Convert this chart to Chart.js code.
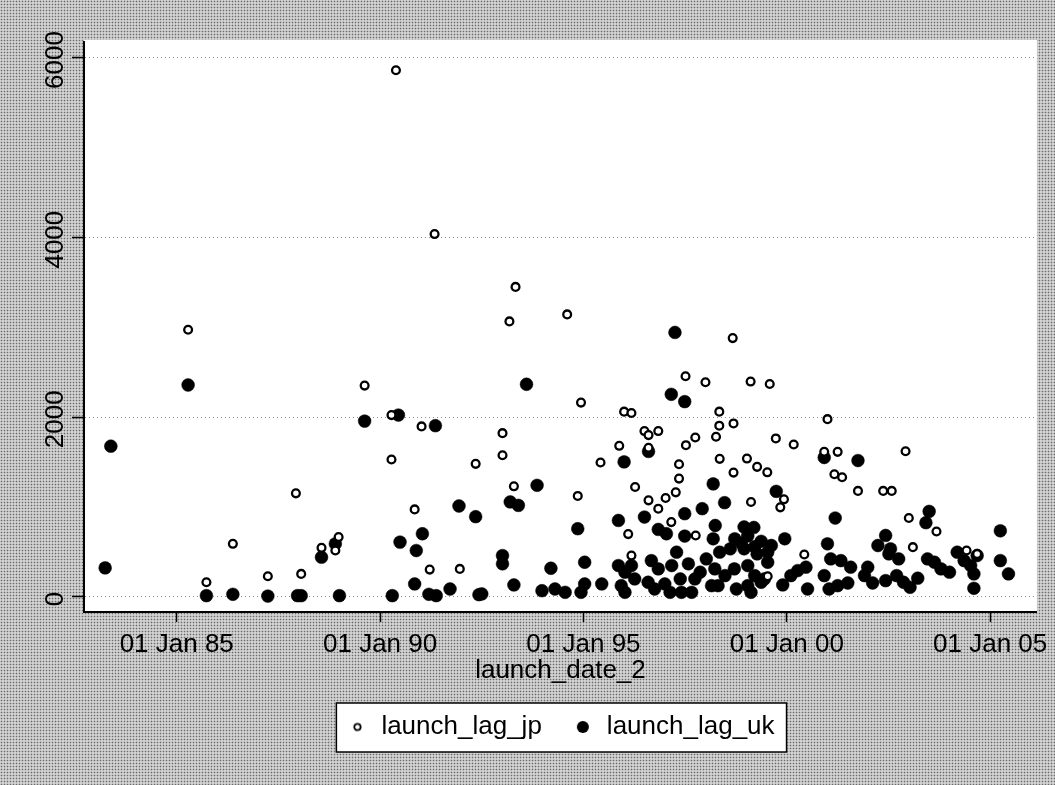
<!DOCTYPE html>
<html>
<head>
<meta charset="utf-8">
<title>launch_lag by launch_date_2</title>
<script src="https://cdn.jsdelivr.net/npm/chart.js@4.4.1/dist/chart.umd.min.js"></script>
<style>
  html, body { margin: 0; padding: 0; }
  body {
    width: 1055px; height: 785px; overflow: hidden;
    background-color: #d2d2d2;
    background-image: radial-gradient(circle, #6a6a6a 0.7px, transparent 1.1px);
    background-size: 3px 3px;
  }
  #wrap { position: relative; width: 1055px; height: 785px; }
</style>
</head>
<body>
<div id="wrap"><canvas id="chart"></canvas></div>
<script>
/* ---- Data (dates as decimal years, lag in days) ---- */
const xTicks = [1985, 1990, 1995, 2000, 2005];
const yTicks = [0, 2000, 4000, 6000];

const jpYear = [
  1985.28, 1985.73, 1986.38, 1987.24, 1987.93, 1988.06, 1988.56, 1988.9, 1988.98, 1989.62,
  1990.28, 1990.28, 1990.39, 1990.85, 1991.02, 1991.22, 1991.34, 1991.96, 1992.35, 1993.01,
  1993.01, 1993.18, 1993.29, 1993.33, 1994.6, 1994.86, 1994.94, 1995.42, 1995.88, 1996.0,
  1996.1, 1996.18, 1996.18, 1996.27, 1996.5, 1996.6, 1996.6, 1996.6, 1996.84, 1996.84,
  1997.02, 1997.16, 1997.27, 1997.35, 1997.35, 1997.51, 1997.52, 1997.75, 1997.76, 1998.0,
  1998.26, 1998.34, 1998.34, 1998.35, 1998.67, 1998.69, 1998.69, 1999.02, 1999.11, 1999.12,
  1999.27, 1999.52, 1999.53, 1999.58, 1999.73, 1999.84, 1999.93, 2000.17, 2000.43, 2000.92,
  2001.0, 2001.17, 2001.25, 2001.36, 2001.75, 2002.37, 2002.58, 2002.92, 2003.0, 2003.1,
  2003.68, 2004.42, 2004.68,
];
const jpLag = [
  2975, 164, 592, 231, 1154, 257, 547, 517, 667, 2353,
  2025, 1530, 5864, 975, 1899, 305, 4040, 313, 1482, 1824,
  1578, 3068, 1232, 3452, 3146, 1125, 2164, 1497, 1683, 2063,
  700, 2048, 461, 1225, 1847, 1802, 1660, 1076, 1847, 983,
  1102, 834, 1165, 1478, 1318, 2457, 1690, 1776, 685, 2390,
  1784, 2063, 1907, 1538, 2882, 1932, 1385, 1541, 2398, 1058,
  1449, 1388, 231, 2371, 1765, 998, 1087, 1698, 473, 1616,
  1980, 1366, 1616, 1333, 1181, 1181, 1181, 1623, 879, 555,
  729, 517, 480,
];

const ukYear = [
  1983.24, 1983.38, 1985.28, 1985.73, 1986.38, 1987.24, 1987.97, 1988.06, 1988.56, 1988.9,
  1989.0, 1989.62, 1990.3, 1990.45, 1990.49, 1990.85, 1990.89, 1991.04, 1991.2, 1991.36,
  1991.38, 1991.72, 1991.94, 1992.35, 1992.43, 1992.5, 1993.01, 1993.01, 1993.2, 1993.29,
  1993.4, 1993.6, 1993.86, 1993.98, 1994.2, 1994.3, 1994.55, 1994.86, 1994.94, 1995.03,
  1995.03, 1995.45, 1995.86, 1995.86, 1995.93, 1996.0, 1996.02, 1996.02, 1996.18, 1996.26,
  1996.5, 1996.59, 1996.6, 1996.67, 1996.75, 1996.84, 1996.84, 1997.0, 1997.04, 1997.13,
  1997.16, 1997.17, 1997.25, 1997.29, 1997.38, 1997.41, 1997.49, 1997.49, 1997.49, 1997.58,
  1997.66, 1997.74, 1997.87, 1997.92, 1998.02, 1998.15, 1998.19, 1998.19, 1998.23, 1998.24,
  1998.31, 1998.35, 1998.47, 1998.48, 1998.61, 1998.71, 1998.72, 1998.76, 1998.88, 1998.95,
  1998.95, 1999.04, 1999.04, 1999.04, 1999.12, 1999.19, 1999.21, 1999.21, 1999.27, 1999.37,
  1999.37, 1999.45, 1999.53, 1999.53, 1999.62, 1999.74, 1999.9, 1999.95, 2000.1, 2000.27,
  2000.47, 2000.51, 2000.92, 2000.92, 2001.0, 2001.04, 2001.08, 2001.19, 2001.25, 2001.33,
  2001.5, 2001.57, 2001.75, 2001.91, 2001.99, 2002.11, 2002.24, 2002.43, 2002.43, 2002.51,
  2002.55, 2002.7, 2002.75, 2002.87, 2003.03, 2003.22, 2003.42, 2003.46, 2003.5, 2003.63,
  2003.79, 2004.0, 2004.19, 2004.36, 2004.52, 2004.6, 2004.6, 2004.68, 2005.25, 2005.25,
  2005.45,
];
const ukLag = [
  324, 1679, 2360, 15, 30, 10, 15, 15, 443, 592,
  15, 1958, 15, 2025, 611, 145, 517, 704, 30, 1907,
  15, 89, 1013, 894, 26, 34, 461, 369, 1058, 134,
  1020, 2368, 1243, 70, 320, 89, 52, 760, 52, 387,
  145, 145, 852, 350, 126, 1504, 276, 52, 350, 201,
  890, 164, 1620, 405, 89, 752, 313, 145, 704, 52,
  2256, 350, 2945, 499, 201, 52, 2175, 927, 678, 369,
  52, 201, 276, 983, 424, 126, 1259, 648, 313, 796,
  126, 499, 1050, 238, 536, 313, 648, 89, 600, 779,
  536, 680, 350, 126, 52, 774, 560, 238, 480, 620,
  164, 201, 499, 387, 573, 1176, 134, 648, 238, 294,
  332, 89, 1553, 238, 592, 89, 424, 879, 126, 405,
  156, 332, 1519, 238, 332, 156, 573, 685, 182, 480,
  536, 238, 424, 164, 108, 209, 827, 424, 953, 387,
  313, 276, 499, 405, 350, 257, 97, 461, 737, 405,
  257,
];

const FONT = "'Liberation Sans', Arial, Helvetica, sans-serif";

/* ---- Legend markers (small hollow / solid circles) ---- */
function makeMarker(r, filled) {
  const c = document.createElement("canvas");
  const s = Math.ceil(r * 2 + 4);
  c.width = s;
  c.height = s;
  const g = c.getContext("2d");
  g.beginPath();
  g.arc(s / 2, s / 2, r, 0, Math.PI * 2);
  if (filled) {
    g.fillStyle = "#000";
    g.fill();
  } else {
    g.lineWidth = 1.8;
    g.strokeStyle = "#000";
    g.stroke();
  }
  return c;
}
const legendMarks = [makeMarker(3.2, false), makeMarker(6, true)];

/* ---- Plot background, rotated y labels, legend frame ---- */
const stataFrame = {
  id: "stataFrame",
  beforeDraw(chart) {
    const { ctx, chartArea: a } = chart;
    ctx.save();
    ctx.fillStyle = "#fff";
    ctx.fillRect(a.left, a.top - 2, a.right - a.left, a.bottom - a.top + 2);
    ctx.restore();
  },
  afterDraw(chart) {
    const { ctx } = chart;
    const ys = chart.scales.y;

    ctx.save();
    ctx.font = `26px ${FONT}`;
    ctx.fillStyle = "#000";
    ctx.textAlign = "center";
    ctx.textBaseline = "alphabetic";
    yTicks.forEach((v) => {
      ctx.save();
      ctx.translate(63, ys.getPixelForValue(v) + 2);
      ctx.rotate(-Math.PI / 2);
      ctx.fillText(String(v), 0, 0);
      ctx.restore();
    });
    ctx.restore();

    const hb = chart.legend.legendHitBoxes;
    if (!hb || !hb.length) return;
    const left = Math.min(...hb.map((b) => b.left)) - 10;
    const right = Math.max(...hb.map((b) => b.left + b.width)) + 12;
    const top = Math.min(...hb.map((b) => b.top)) - 11;
    const bottom = Math.max(...hb.map((b) => b.top + b.height)) + 12;
    ctx.save();
    ctx.globalCompositeOperation = "destination-over";
    ctx.fillStyle = "#fff";
    ctx.fillRect(left, top, right - left, bottom - top);
    ctx.globalCompositeOperation = "source-over";
    ctx.lineWidth = 1.5;
    ctx.strokeStyle = "#000";
    ctx.strokeRect(left, top, right - left, bottom - top);
    ctx.restore();
  },
};

new Chart(document.getElementById("chart"), {
  type: "scatter",
  data: {
    datasets: [
      {
        label: "launch_lag_jp",
        data: jpYear.map((x, i) => ({ x, y: jpLag[i] })),
        pointRadius: 3.9,
        pointHoverRadius: 3.9,
        pointBorderWidth: 2.3,
        pointBackgroundColor: "#fff",
        pointBorderColor: "#000",
        order: 0,
      },
      {
        label: "launch_lag_uk",
        data: ukYear.map((x, i) => ({ x, y: ukLag[i] })),
        pointRadius: 6.4,
        pointHoverRadius: 6.4,
        pointBorderWidth: 0.5,
        pointBackgroundColor: "#000",
        pointBorderColor: "#000",
        order: 1,
      },
    ],
  },
  options: {
    responsive: true,
    maintainAspectRatio: false,
    animation: false,
    events: [],
    layout: { padding: { left: 0, top: 42, right: 15, bottom: 35 } },
    scales: {
      x: {
        type: "linear",
        position: "bottom",
        min: 1982.72,
        max: 2006.15,
        afterBuildTicks: (scale) => {
          scale.ticks = xTicks.map((value) => ({ value }));
        },
        afterFit: (scale) => {
          scale.height = 72;
        },
        ticks: {
          autoSkip: false,
          maxRotation: 0,
          padding: 7,
          color: "#000",
          font: { family: FONT, size: 26 },
          callback: (v) => "01 Jan " + String(v % 100).padStart(2, "0"),
        },
        grid: {
          drawOnChartArea: false,
          drawTicks: true,
          tickLength: 10,
          tickColor: "#000",
          tickWidth: 1.5,
        },
        border: { color: "#000", width: 2 },
        title: {
          display: true,
          text: "launch_date_2",
          color: "#000",
          font: { family: FONT, size: 26 },
          padding: { top: 0, bottom: -2 },
        },
      },
      y: {
        type: "linear",
        position: "left",
        min: -167,
        max: 6178,
        afterBuildTicks: (scale) => {
          scale.ticks = yTicks.map((value) => ({ value }));
        },
        afterFit: (scale) => {
          scale.width = 84;
        },
        ticks: { display: false },
        grid: {
          color: "#8c8c8c",
          lineWidth: 1,
          drawTicks: true,
          tickLength: 12,
          tickColor: "#000",
          tickWidth: 1.5,
          tickBorderDash: [],
        },
        border: { color: "#000", width: 2, dash: [1, 3] },
      },
    },
    plugins: {
      tooltip: { enabled: false },
      legend: {
        display: true,
        position: "bottom",
        fullSize: false,
        labels: {
          usePointStyle: true,
          boxWidth: 22,
          boxHeight: 14,
          padding: 30,
          color: "#000",
          font: { family: FONT, size: 26 },
          generateLabels: (chart) =>
            chart.data.datasets.map((ds, i) => ({
              text: ds.label,
              pointStyle: legendMarks[i],
              fillStyle: "#000",
              strokeStyle: "#000",
              lineWidth: 0,
              fontColor: "#000",
              hidden: false,
              datasetIndex: i,
            })),
        },
      },
    },
  },
  plugins: [stataFrame],
});
</script>
</body>
</html>
